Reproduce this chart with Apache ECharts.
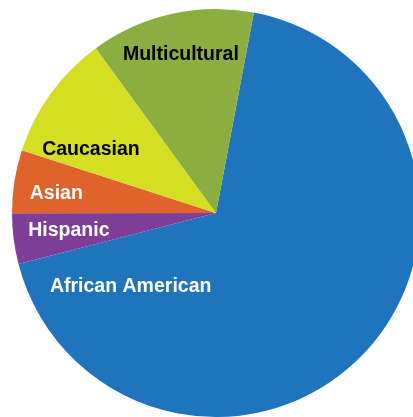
<!DOCTYPE html>
<html>
<head>
<meta charset="utf-8">
<script src="https://cdn.jsdelivr.net/npm/echarts@6/dist/echarts.min.js"></script>
<style>
  html, body { margin: 0; padding: 0; background: #fff; }
  #chart { width: 413px; height: 417px; }
</style>
</head>
<body>
<div id="chart"></div>
<script>
// Shares by group, clockwise from the top.
const categories = ["African American", "Hispanic", "Asian", "Caucasian", "Multicultural"];
const values = [68, 4, 5, 10, 13];

const COLORS = ["#1f74bd", "#7e3e98", "#e0632c", "#d6de24", "#8cae40"];
const LABEL_COLORS = ["#fff", "#fff", "#fff", "#000", "#000"];
// label nudges from the default inside spot
const NUDGE = {
  "African American": [-162, 2],
  "Hispanic": [-43, 4],
  "Asian": [-56, -3],
  "Caucasian": [-40, -2],
  "Multicultural": [-12, -56],
};

const chart = echarts.init(document.getElementById("chart"), null, { renderer: "canvas" });

chart.setOption({
  animation: false,
  series: [{
    type: "pie",
    center: [216, 213],
    radius: [0, 204],
    startAngle: 79.3,
    clockwise: true,
    silent: true,
    label: {
      show: true,
      position: "inside",
      formatter: "{b}",
      fontFamily: "Liberation Sans, Arial, sans-serif",
      fontWeight: "bold",
      fontSize: 19.5,
    },
    labelLine: { show: false },
    labelLayout: (p) => {
      const n = NUDGE[categories[p.dataIndex]] || [0, 0];
      return { dx: n[0], dy: n[1] };
    },
    data: categories.map((name, i) => ({
      name,
      value: values[i],
      itemStyle: { color: COLORS[i] },
      label: { color: LABEL_COLORS[i] },
    })),
  }],
});
</script>
</body>
</html>
